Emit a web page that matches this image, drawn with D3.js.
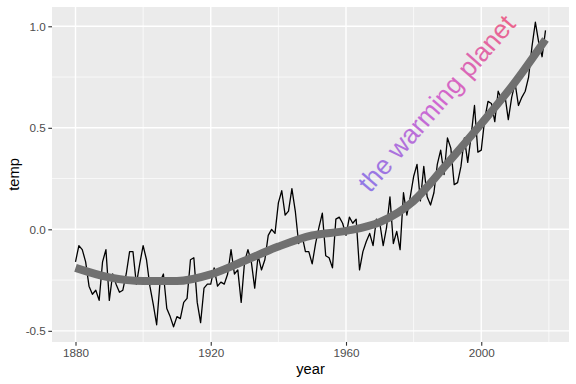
<!DOCTYPE html>
<html>
<head>
<meta charset="utf-8">
<script src="https://cdn.jsdelivr.net/npm/d3@7"></script>
<style>
  body { margin: 0; background: #fff; }
  svg text { font-family: "Liberation Sans", Arial, sans-serif; }
</style>
</head>
<body>
<svg id="chart" width="576" height="384"></svg>
<script>
// annual global temperature anomaly, 1880 - 2019
const firstYear = 1880;
const temps = [
	-0.16,-0.08,-0.10,-0.16,-0.28,-0.32,-0.30,-0.35,-0.16,-0.10,
	-0.35,-0.22,-0.27,-0.31,-0.30,-0.22,-0.11,-0.11,-0.27,-0.17,
	-0.08,-0.15,-0.28,-0.37,-0.47,-0.26,-0.22,-0.39,-0.43,-0.48,
	-0.43,-0.44,-0.36,-0.34,-0.15,-0.14,-0.36,-0.46,-0.29,-0.27,
	-0.27,-0.19,-0.28,-0.26,-0.27,-0.22,-0.10,-0.22,-0.20,-0.36,
	-0.16,-0.10,-0.16,-0.29,-0.13,-0.20,-0.15,-0.03,-0.00,-0.02,
	0.13,0.19,0.07,0.09,0.20,0.09,-0.07,-0.03,-0.11,-0.11,
	-0.17,-0.07,0.01,0.08,-0.13,-0.14,-0.19,0.05,0.06,0.03,
	-0.03,0.06,0.03,0.05,-0.20,-0.11,-0.06,-0.02,-0.08,0.05,
	0.03,-0.08,0.01,0.16,-0.07,-0.01,-0.10,0.18,0.07,0.16,
	0.26,0.32,0.14,0.31,0.16,0.12,0.18,0.32,0.39,0.27,
	0.45,0.40,0.22,0.23,0.31,0.45,0.33,0.46,0.61,0.38,
	0.39,0.54,0.63,0.62,0.53,0.68,0.64,0.66,0.54,0.65,
	0.72,0.61,0.65,0.68,0.75,0.90,1.02,0.92,0.85,0.98
];
const years = d3.range(firstYear, firstYear + temps.length);

// smooth trend
const smoothYears = [1880,1890,1900,1910,1920,1930,1940,1950,1960,1970,1980,1990,2000,2010,2019];
const smoothTemps = [-0.19,-0.237,-0.255,-0.255,-0.222,-0.155,-0.085,-0.03,-0.008,0.035,0.14,0.325,0.52,0.725,0.935];

const xMajor = [1880,1920,1960,2000];
const xMinor = [1900,1940,1980,2020];
const yMajor = [-0.5,0,0.5,1.0];
const yMinor = [-0.25,0.25,0.75];

const label = "the warming planet";

const drawChart = (svg_name) => {
	let chart = d3.select(svg_name);
	let width = +chart.attr("width");
	let height = +chart.attr("height");
	let margin = {left:52,right:7,top:7,bottom:42};

	let data = years.map((y,i) => ({year:y, temp:temps[i]}));
	let smooth = smoothYears.map((y,i) => ({year:y, temp:smoothTemps[i]}));

	// ggplot style 5% expansion
	let pad = (ext) => { let d = (ext[1]-ext[0])*0.05; return [ext[0]-d, ext[1]+d]; };
	let x = d3.scaleLinear()
		.domain(pad(d3.extent(years)))
		.range([margin.left, width - margin.right]);
	let y = d3.scaleLinear()
		.domain(pad(d3.extent(temps)))
		.range([height - margin.bottom, margin.top]);

	addPanel(chart,x,y,margin,width,height);
	addLines(chart,data,smooth,x,y);
	addLabel(chart,x,y);
	addAxes(chart,x,y,margin,width,height);
}

const addPanel = (chart, x, y, margin, width, height) => {
	chart.append("rect")
		.attr("x",margin.left).attr("y",margin.top)
		.attr("width",width - margin.left - margin.right)
		.attr("height",height - margin.top - margin.bottom)
		.style("fill","#ebebeb");

	let grid = chart.append("g").style("stroke","#fff");
	grid.selectAll(".xminor").data(xMinor).join("line")
		.attr("x1",d => x(d)).attr("x2",d => x(d))
		.attr("y1",margin.top).attr("y2",height - margin.bottom)
		.style("stroke-width",0.7);
	grid.selectAll(".yminor").data(yMinor).join("line")
		.attr("y1",d => y(d)).attr("y2",d => y(d))
		.attr("x1",margin.left).attr("x2",width - margin.right)
		.style("stroke-width",0.7);
	grid.selectAll(".xmajor").data(xMajor).join("line")
		.attr("x1",d => x(d)).attr("x2",d => x(d))
		.attr("y1",margin.top).attr("y2",height - margin.bottom)
		.style("stroke-width",1.4);
	grid.selectAll(".ymajor").data(yMajor).join("line")
		.attr("y1",d => y(d)).attr("y2",d => y(d))
		.attr("x1",margin.left).attr("x2",width - margin.right)
		.style("stroke-width",1.4);
}

const addLines = (chart, data, smooth, x, y) => {
	let line = d3.line()
		.x(d => x(d.year))
		.y(d => y(d.temp));
	chart.append("path")
		.datum(data)
		.attr("d",line)
		.style("fill","none")
		.style("stroke","#000")
		.style("stroke-width",1.3)
		.style("stroke-linejoin","round");
	chart.append("path")
		.datum(smooth)
		.attr("d",line.curve(d3.curveMonotoneX))
		.style("fill","none")
		.style("stroke","#707070")
		.style("stroke-width",8);
}

const addLabel = (chart, x, y) => {
	let angle = -49;
	let half = 116;
	let grad = chart.append("defs").append("linearGradient")
		.attr("id","warm")
		.attr("gradientUnits","userSpaceOnUse")
		.attr("x1",-half).attr("y1",0).attr("x2",half).attr("y2",0);
	grad.append("stop").attr("offset","0%").attr("stop-color","#8e7ae6");
	grad.append("stop").attr("offset","50%").attr("stop-color","#cf68d2");
	grad.append("stop").attr("offset","100%").attr("stop-color","#ec658a");

	chart.append("text")
		.attr("transform",`translate(${x(1986.8)},${y(0.62)}) rotate(${angle})`)
		.attr("text-anchor","middle")
		.attr("dominant-baseline","central")
		.style("font-size","26.5px")
		.style("fill","url(#warm)")
		.text(label);
}

const addAxes = (chart, x, y, margin, width, height) => {
	let x_axis = d3.axisBottom(x).tickValues(xMajor).tickFormat(d3.format("d"))
		.tickSize(3.7).tickPadding(2.5);
	let gx = chart.append("g")
		.attr("transform",`translate(0,${height - margin.bottom})`)
		.call(x_axis);
	let y_axis = d3.axisLeft(y).tickValues(yMajor).tickFormat(d3.format(".1f"))
		.tickSize(3.7).tickPadding(2.5);
	let gy = chart.append("g")
		.attr("transform",`translate(${margin.left},0)`)
		.call(y_axis);
	[gx,gy].forEach(g => {
		g.select(".domain").remove();
		g.selectAll("line").style("stroke","#333").style("stroke-width",1.1);
		g.selectAll("text").style("fill","#4d4d4d").style("font-size","11.7px")
			.style("font-family","Liberation Sans, Arial, sans-serif");
	});
	gy.selectAll("text").text(d => d3.format(".1f")(d).replace("−","-"));

	chart.append("text")
		.attr("x",(margin.left + width - margin.right)/2)
		.attr("y",374)
		.style("text-anchor","middle")
		.style("font-size","14.7px")
		.text("year");
	chart.append("text")
		.attr("transform","rotate(-90)")
		.attr("x",-(margin.top + height - margin.bottom)/2)
		.attr("y",19)
		.style("text-anchor","middle")
		.style("font-size","14.7px")
		.text("temp");
}

drawChart("#chart");
</script>
</body>
</html>
